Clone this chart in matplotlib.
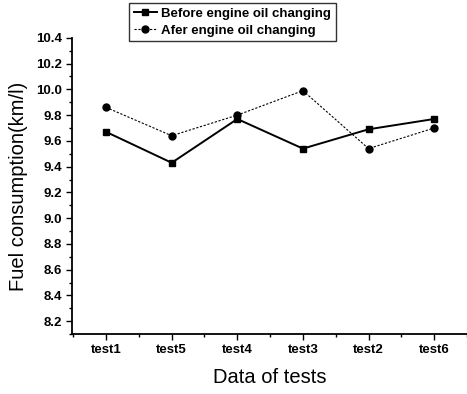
import matplotlib.pyplot as plt
from matplotlib.ticker import MultipleLocator

plt.rcParams['font.family'] = ['Liberation Sans', 'DejaVu Sans']

# donnees
tests = ['test1', 'test5', 'test4', 'test3', 'test2', 'test6']
avant = [9.67, 9.43, 9.77, 9.54, 9.69, 9.77]
apres = [9.86, 9.64, 9.80, 9.99, 9.54, 9.70]

fig = plt.figure(figsize=(4.67, 3.94), dpi=100)
ax = fig.add_axes([0.154, 0.152, 0.846, 0.752])

x = range(1, len(tests) + 1)
ax.plot(x, avant, color='black', linestyle='-', linewidth=1.4, marker='s', markersize=5,
        label='Before engine oil changing')
ax.plot(x, apres, color='black', linestyle=(0, (2, 1.5)), linewidth=0.8, marker='o', markersize=5,
        label='Afer engine oil changing')

ax.set_xlim(0.48, 6.5)
ax.set_ylim(8.1, 10.4)
ax.set_xticks(list(x))
ax.set_xticklabels(tests, fontweight='bold', fontsize=9.5)
ax.xaxis.set_minor_locator(MultipleLocator(0.5))
ax.set_yticks([8.2 + 0.2 * i for i in range(12)])
ax.yaxis.set_minor_locator(MultipleLocator(0.1))
for lab in ax.get_yticklabels():
    lab.set_fontweight('bold')
    lab.set_fontsize(9.5)

ax.spines['top'].set_visible(False)
ax.spines['right'].set_visible(False)
ax.spines['left'].set_linewidth(1.3)
ax.spines['bottom'].set_linewidth(1.3)
ax.tick_params(which='major', direction='out', length=4, width=1, pad=3)
ax.tick_params(which='minor', direction='out', length=2, width=1)

ax.set_xlabel('Data of tests', fontsize=14.5, labelpad=9)
ax.set_ylabel('Fuel consumption(km/l)', fontsize=14.5, labelpad=6)

# legende en haut
leg = fig.legend(loc='upper left', bbox_to_anchor=(129 / 467, 1 - 3 / 394), fontsize=9.5,
                 frameon=True, fancybox=False, edgecolor='black', borderpad=0.35,
                 handlelength=1.8, handletextpad=0.3, labelspacing=0.35, borderaxespad=0)
leg.get_frame().set_linewidth(1)
for t in leg.get_texts():
    t.set_fontweight('bold')

fig.savefig('out.png', dpi=100)
